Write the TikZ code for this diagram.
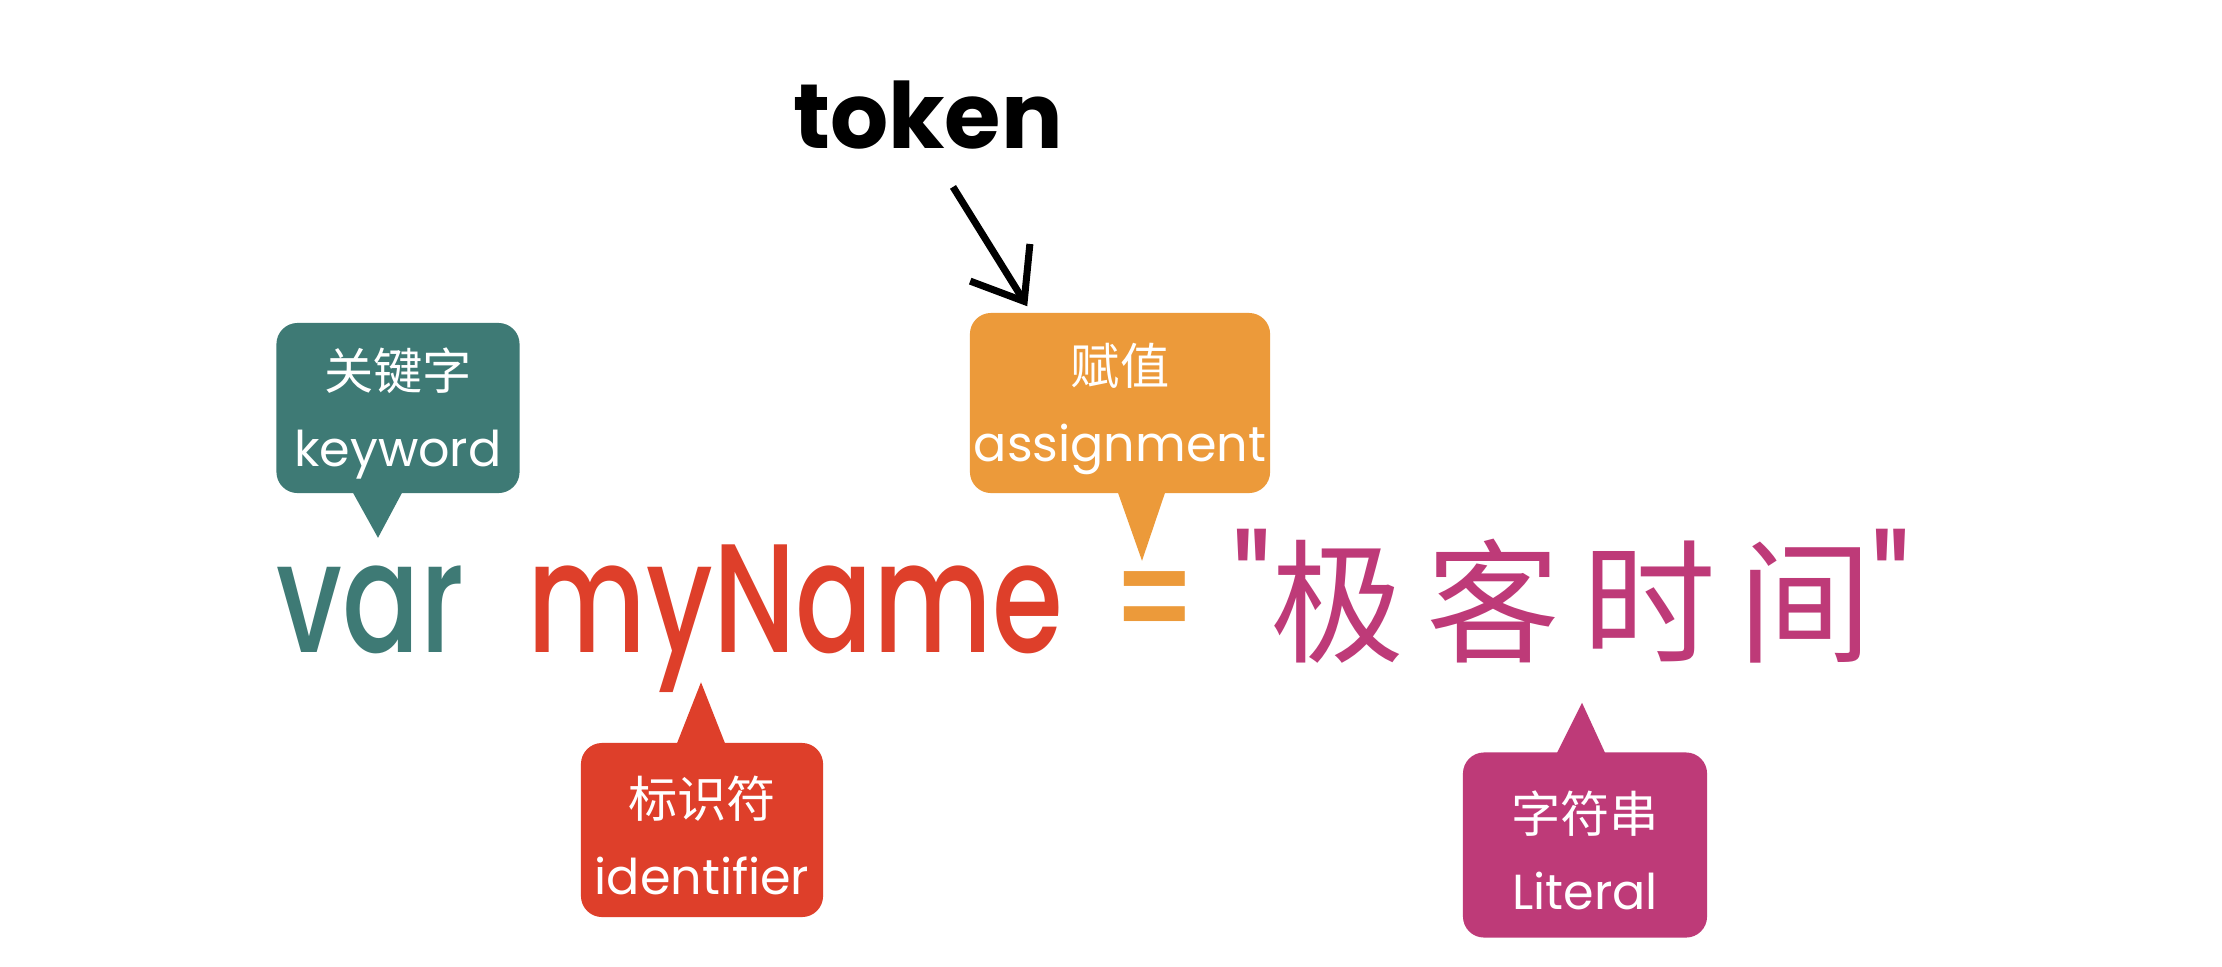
\documentclass[tikz,border=0pt]{standalone}
\usepackage{fontspec}
\setmainfont{Poppins}
\newfontfamily\codefont[FakeStretch=0.74]{Poppins Medium}
\newfontfamily\cjk{Noto Sans CJK SC}
\usetikzlibrary{arrows.meta,calc}

\definecolor{kwteal}{RGB}{62,122,117}
\definecolor{idred}{RGB}{222,63,42}
\definecolor{asorange}{RGB}{236,154,58}
\definecolor{litpink}{RGB}{190,58,120}

\tikzset{
  callout/.style={rounded corners=6pt, text=white, align=center, inner sep=0pt,
    font=\fontsize{14}{22}\selectfont},
  code/.style={anchor=base west, inner sep=0pt, font=\fontsize{44}{44}\codefont},
  tokenarrow/.style={line width=2pt, -{Straight Barb[length=13pt,width=20pt]}},
}

\begin{document}
\begin{tikzpicture}[x=0.01cm, y=-0.01cm]

% canvas, in pixels of the reference
\path[use as bounding box, fill=white] (0,0) rectangle (2222,966);

% the statement
\node[code, text=kwteal] (var) at (276,652) {var};
\node[code, text=idred] (name) at (527,652) {myName};
\node[code, text=asorange] (eq) at (1110,652) {=};
\node[code, text=litpink] (str) at (1233,652)
  {\char34{\cjk\fontsize{38}{38}\selectfont 极\,客\,时\,间}\char34};

% keyword box
\node[callout, fill=kwteal, minimum width=2.43cm, minimum height=1.70cm] (kw) at (398,408)
  {\rule{0pt}{15pt}{\cjk 关键字}\\keyword};
\fill[kwteal] ($(kw.south)+(-45,-1)$) -- ($(kw.south)+(4,-1)$) -- ($(kw.south)+(-20,44)$) -- cycle;

% assignment box
\node[callout, fill=asorange, minimum width=3.00cm, minimum height=1.80cm] (asg) at (1120,403)
  {\rule{0pt}{15pt}{\cjk 赋值}\\assignment};
\fill[asorange] ($(asg.south)+(-2,-1)$) -- ($(asg.south)+(45,-1)$) -- ($(asg.south)+(22,67)$) -- cycle;

% identifier box
\node[callout, fill=idred, minimum width=2.42cm, minimum height=1.74cm] (id) at (702,830)
  {\rule{0pt}{15pt}{\cjk 标识符}\\identifier};
\fill[idred] ($(id.north)+(-25,1)$) -- ($(id.north)+(23,1)$) -- ($(id.north)+(-1,-60)$) -- cycle;

% literal box
\node[callout, fill=litpink, minimum width=2.44cm, minimum height=1.85cm] (lit) at (1585,845)
  {\rule{0pt}{15pt}{\cjk 字符串}\\Literal};
\fill[litpink] ($(lit.north)+(-28,1)$) -- ($(lit.north)+(20,1)$) -- ($(lit.north)+(-3,-49)$) -- cycle;

% token label and its arrow
\node[inner sep=0pt, font=\fontsize{26}{26}\selectfont\bfseries] (token) at (928,115) {token};
\coordinate (tokentip) at ($(asg.north west)+(58,-6)$);
\draw[tokenarrow] ($(token.south)+(25,37)$) -- (tokentip);

\end{tikzpicture}
\end{document}
